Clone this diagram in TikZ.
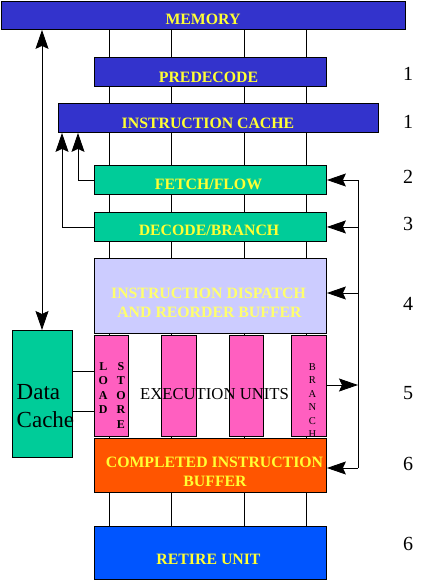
\documentclass[tikz,border=0pt]{standalone}
\usepackage{fontspec}
\setmainfont{Liberation Serif}
\usetikzlibrary{arrows.meta,backgrounds}
\definecolor{memblue}{RGB}{51,51,204}
\definecolor{retblue}{RGB}{0,85,255}
\definecolor{grn}{RGB}{0,204,153}
\definecolor{lav}{RGB}{204,204,255}
\definecolor{pnk}{RGB}{255,95,192}
\definecolor{org}{RGB}{255,85,0}
\definecolor{ytext}{RGB}{255,255,51}
\definecolor{ytextpale}{RGB}{255,255,110}
\begin{document}
\begin{tikzpicture}[x=1pt,y=-1pt,
  blk/.style={draw=black, line width=0.9pt, inner sep=0pt, anchor=north west},
  ytxt/.style={text=ytext, font=\fontsize{15.8}{18}\selectfont\bfseries, anchor=base, inner sep=0pt},
  num/.style={font=\fontsize{20}{22}\selectfont, anchor=base, inner sep=0pt},
  ldtxt/.style={font=\fontsize{12}{14}\selectfont\bfseries, anchor=base, inner sep=0pt},
  brtxt/.style={font=\fontsize{10.5}{12}\selectfont, anchor=base, inner sep=0pt},
  dctxt/.style={font=\fontsize{23}{26}\selectfont, anchor=base west, inner sep=0pt},
  conn/.style={line width=0.9pt},
  tip/.tip={Stealth[length=19pt,width=13pt,inset=3pt]},
  arr/.style={conn, -tip},
  darr/.style={conn, tip-tip},
]
\useasboundingbox (0,0) rectangle (423,581);

% boxes
\node[blk, fill=memblue, minimum width=404pt, minimum height=28.5pt] (mem) at (1,0.5) {};
\node[blk, fill=memblue, minimum width=232pt, minimum height=29pt] (pre) at (94,57) {};
\node[blk, fill=memblue, minimum width=320pt, minimum height=29pt] (ic) at (58,103) {};
\node[blk, fill=grn, minimum width=232pt, minimum height=29pt] (fetch) at (94,165) {};
\node[blk, fill=grn, minimum width=232pt, minimum height=29pt] (dec) at (94,212) {};
\node[blk, fill=lav, minimum width=232pt, minimum height=75pt] (disp) at (94,258) {};
\node[blk, fill=pnk, minimum width=34pt, minimum height=101pt] (eu1) at (94,335) {};
\node[blk, fill=pnk, minimum width=35pt, minimum height=101pt] (eu2) at (161,335) {};
\node[blk, fill=pnk, minimum width=34pt, minimum height=101pt] (eu3) at (229,335) {};
\node[blk, fill=pnk, minimum width=35pt, minimum height=101pt] (eu4) at (291,335) {};
\node[blk, fill=org, minimum width=232pt, minimum height=54pt] (cib) at (94,438) {};
\node[blk, fill=retblue, minimum width=232pt, minimum height=53pt] (ret) at (94,526) {};
\node[blk, fill=grn, minimum width=60pt, minimum height=127pt] (dc) at (12,330) {};

% vertical bus lines behind the boxes
\begin{scope}[on background layer]
\foreach \x [count=\i] in {109,171,244,306} {
  \coordinate (v\i) at (\x,0);
  \draw[conn] (v\i |- mem.south) -- (v\i |- ret.north);
}
\end{scope}

% left connectors
\coordinate (m1) at (42,0);
\draw[darr] (m1 |- mem.south) -- (m1 |- dc.north);
\coordinate (f1) at (78,0);
\draw[arr] (fetch.west) -| (f1 |- ic.south);
\coordinate (d1) at (62,0);
\draw[arr] (dec.west) -| (d1 |- ic.south);
\coordinate (l1) at (0,371);
\coordinate (l2) at (0,411);
\draw[conn] (dc.east |- l1) -- (eu1.west |- l1);
\draw[conn] (dc.east |- l2) -- (eu1.west |- l2);

% right feedback bus
\coordinate (bt) at (358,180);
\coordinate (bd) at (358,293);
\coordinate (b5) at (358,385);
\coordinate (bb) at (358,468);
\draw[conn] (bt) -- (bb);
\draw[arr] (bt) -- (bt -| fetch.east);
\draw[arr] (dec.east -| bt) -- (dec.east);
\draw[arr] (bd) -- (bd -| disp.east);
\draw[arr] (bb) -- (bb -| cib.east);
\draw[arr] (b5 -| eu4.east) -- (b5);

% texts
\node[ytxt] (tmem) at (203,24.3) {MEMORY};
\node[ytxt] (tpre) at (208.5,82) {PREDECODE};
\node[ytxt] (tic) at (208,128) {INSTRUCTION CACHE};
\node[ytxt] (tfetch) at (208.5,189) {FETCH/FLOW};
\node[ytxt] (tdec) at (209,235) {DECODE/BRANCH};
\node[ytxt, text=ytextpale] (tdisp1) at (208.5,298) {INSTRUCTION DISPATCH};
\node[ytxt, text=ytextpale] (tdisp2) at (209.5,317) {AND REORDER BUFFER};
\node[ytxt] (tcib1) at (214.5,467) {COMPLETED INSTRUCTION};
\node[ytxt] (tcib2) at (215,486) {BUFFER};
\node[ytxt] (tret) at (208.5,564) {RETIRE UNIT};
\node[font=\fontsize{16.7}{19}\selectfont, anchor=base, inner sep=0pt] (teu) at (214.5,399) {EXECUTION UNITS};

\foreach \c [count=\i from 0] in {L,O,A,D}
  \node[ldtxt] (ld\i) at (103.3,370+14.5*\i) {\c};
\foreach \c [count=\i from 0] in {S,T,O,R,E}
  \node[ldtxt] (st\i) at (121,370+14.5*\i) {\c};
\foreach \c [count=\i from 0] in {B,R,A,N,C,H}
  \node[brtxt] (br\i) at (312.3,370+13.5*\i) {\c};

\node[dctxt] (tdc1) at (16.5,399) {Data};
\node[dctxt] (tdc2) at (16.5,427) {Cache};

% stage numbers
\node[num] (n1) at (408,80) {1};
\node[num] (n2) at (408,128) {1};
\node[num] (n3) at (408,183.5) {2};
\node[num] (n4) at (408,230) {3};
\node[num] (n5) at (408,310) {4};
\node[num] (n6) at (408,399) {5};
\node[num] (n7) at (408,470) {6};
\node[num] (n8) at (408,550) {6};
\end{tikzpicture}
\end{document}
